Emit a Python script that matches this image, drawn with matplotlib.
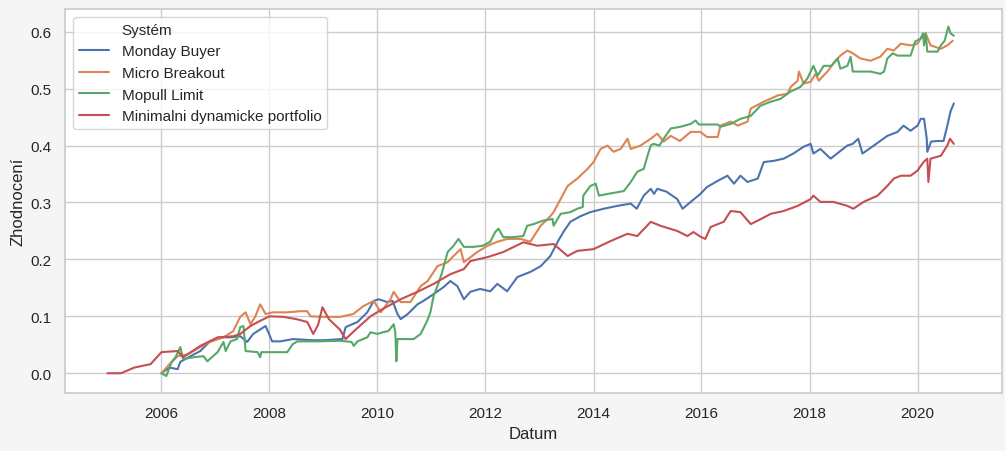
import numpy as np
import pandas as pd
import matplotlib
matplotlib.use("Agg")
import matplotlib.pyplot as plt
from matplotlib.lines import Line2D
import seaborn as sns

# ---- data (decimal year, cumulative return) ----
series_names = ["Monday Buyer", "Micro Breakout", "Mopull Limit", "Minimalni dynamicke portfolio"]

mb_t = [2006.0, 2006.15, 2006.3, 2006.35, 2006.54, 2006.72, 2006.9, 2007.09, 2007.28, 2007.46, 2007.59,
        2007.7, 2007.83, 2007.93, 2007.98, 2008.05, 2008.2, 2008.44, 2008.8, 2009.0, 2009.35, 2009.41,
        2009.63, 2009.81, 2009.93, 2010.02, 2010.18, 2010.28, 2010.37, 2010.43, 2010.56, 2010.74,
        2010.85, 2011.04, 2011.22, 2011.35, 2011.48, 2011.6, 2011.72, 2011.9, 2012.09, 2012.22, 2012.4,
        2012.59, 2012.83, 2013.02, 2013.2, 2013.33, 2013.44, 2013.57, 2013.76, 2013.94, 2014.19,
        2014.44, 2014.69, 2014.8, 2014.93, 2015.06, 2015.12, 2015.18, 2015.35, 2015.55, 2015.65,
        2015.8, 2015.98, 2016.1, 2016.3, 2016.48, 2016.6, 2016.72, 2016.85, 2017.04, 2017.15, 2017.33,
        2017.52, 2017.7, 2017.89, 2018.02, 2018.07, 2018.2, 2018.39, 2018.55, 2018.7, 2018.8, 2018.9,
        2018.98, 2019.19, 2019.44, 2019.63, 2019.74, 2019.87, 2020.0, 2020.06, 2020.12, 2020.17,
        2020.18, 2020.25, 2020.37, 2020.48, 2020.55, 2020.61, 2020.67]
mb_v = [0.0, 0.01, 0.007, 0.02, 0.03, 0.039, 0.056, 0.063, 0.063, 0.065, 0.055,
        0.069, 0.077, 0.083, 0.072, 0.056, 0.056, 0.06, 0.058, 0.058, 0.06, 0.081,
        0.09, 0.107, 0.127, 0.13, 0.125, 0.127, 0.104, 0.095, 0.104, 0.121,
        0.127, 0.139, 0.151, 0.162, 0.153, 0.13, 0.143, 0.148, 0.144, 0.157, 0.144,
        0.169, 0.178, 0.188, 0.206, 0.23, 0.248, 0.266, 0.276, 0.283, 0.289,
        0.294, 0.298, 0.289, 0.312, 0.324, 0.315, 0.324, 0.319, 0.306, 0.289,
        0.301, 0.315, 0.327, 0.338, 0.347, 0.333, 0.347, 0.336, 0.342, 0.371, 0.373,
        0.377, 0.386, 0.398, 0.403, 0.386, 0.394, 0.377, 0.389, 0.4, 0.403, 0.412,
        0.386, 0.4, 0.417, 0.424, 0.435, 0.426, 0.435, 0.447, 0.447, 0.412,
        0.389, 0.407, 0.408, 0.408, 0.435, 0.46, 0.474]

br_t = [2006.0, 2006.15, 2006.3, 2006.48, 2006.72, 2006.9, 2007.15, 2007.33, 2007.46, 2007.56,
        2007.65, 2007.74, 2007.83, 2007.93, 2008.07, 2008.33, 2008.57, 2008.7, 2008.76, 2009.0,
        2009.31, 2009.55, 2009.74, 2009.93, 2010.06, 2010.24, 2010.3, 2010.43, 2010.61, 2010.8,
        2010.93, 2011.11, 2011.3, 2011.41, 2011.54, 2011.6, 2011.85, 2012.04, 2012.22, 2012.41,
        2012.65, 2012.83, 2013.02, 2013.2, 2013.26, 2013.39, 2013.52, 2013.7, 2013.89, 2014.0,
        2014.13, 2014.26, 2014.37, 2014.5, 2014.63, 2014.69, 2014.87, 2015.06, 2015.18, 2015.3,
        2015.43, 2015.6, 2015.8, 2015.98, 2016.1, 2016.3, 2016.35, 2016.54, 2016.67, 2016.85,
        2016.91, 2017.15, 2017.41, 2017.59, 2017.65, 2017.78, 2017.8, 2017.89, 2018.02, 2018.11,
        2018.17, 2018.33, 2018.44, 2018.57, 2018.7, 2018.8, 2018.94, 2019.13, 2019.31, 2019.44,
        2019.56, 2019.69, 2019.87, 2020.0, 2020.09, 2020.15, 2020.24, 2020.43, 2020.55, 2020.65]
br_v = [0.0, 0.016, 0.03, 0.033, 0.046, 0.055, 0.063, 0.074, 0.099, 0.107,
        0.086, 0.1, 0.121, 0.104, 0.107, 0.107, 0.109, 0.109, 0.1, 0.099,
        0.099, 0.104, 0.118, 0.127, 0.107, 0.13, 0.143, 0.125, 0.125, 0.153,
        0.162, 0.188, 0.195, 0.206, 0.218, 0.195, 0.213, 0.224, 0.231, 0.236,
        0.236, 0.231, 0.259, 0.276, 0.283, 0.306, 0.329, 0.342, 0.359, 0.371,
        0.394, 0.4, 0.389, 0.394, 0.412, 0.394, 0.4, 0.412, 0.421, 0.407,
        0.417, 0.408, 0.424, 0.424, 0.415, 0.415, 0.435, 0.442, 0.435, 0.442,
        0.465, 0.477, 0.488, 0.491, 0.503, 0.514, 0.53, 0.509, 0.512, 0.526,
        0.514, 0.53, 0.544, 0.558, 0.567, 0.562, 0.553, 0.549, 0.556, 0.57,
        0.567, 0.579, 0.576, 0.579, 0.593, 0.597, 0.576, 0.57, 0.576, 0.584]

ml_t = [2006.0, 2006.09, 2006.19, 2006.26, 2006.35, 2006.4, 2006.59, 2006.78, 2006.85, 2007.04,
        2007.15, 2007.19, 2007.28, 2007.4, 2007.46, 2007.52, 2007.56, 2007.78, 2007.83, 2007.85,
        2008.07, 2008.33, 2008.43, 2008.52, 2008.9, 2009.3, 2009.52, 2009.56, 2009.63, 2009.81,
        2009.87, 2010.0, 2010.1, 2010.2, 2010.3, 2010.33, 2010.35, 2010.37, 2010.67, 2010.8,
        2010.92, 2010.98, 2011.04, 2011.11, 2011.19, 2011.3, 2011.41, 2011.5, 2011.6, 2011.78,
        2011.95, 2012.09, 2012.18, 2012.24, 2012.33, 2012.5, 2012.7, 2012.77, 2012.89, 2013.06,
        2013.24, 2013.26, 2013.39, 2013.57, 2013.7, 2013.8, 2013.81, 2013.94, 2014.04, 2014.1,
        2014.26, 2014.5, 2014.56, 2014.69, 2014.81, 2014.93, 2015.0, 2015.06, 2015.11, 2015.22,
        2015.3, 2015.43, 2015.61, 2015.8, 2015.89, 2015.95, 2016.3, 2016.35, 2016.54, 2016.72,
        2016.91, 2017.09, 2017.28, 2017.46, 2017.65, 2017.83, 2017.96, 2018.07, 2018.15, 2018.26,
        2018.4, 2018.52, 2018.57, 2018.7, 2018.76, 2018.8, 2019.13, 2019.31, 2019.38, 2019.44,
        2019.54, 2019.63, 2019.87, 2019.96, 2020.06, 2020.1, 2020.12, 2020.15, 2020.18, 2020.37,
        2020.43, 2020.5, 2020.57, 2020.61, 2020.67]
ml_v = [0.0, -0.005, 0.02, 0.028, 0.046, 0.025, 0.028, 0.03, 0.021, 0.037,
        0.055, 0.039, 0.056, 0.06, 0.081, 0.083, 0.039, 0.037, 0.028, 0.037,
        0.037, 0.037, 0.051, 0.056, 0.056, 0.057, 0.055, 0.048, 0.056, 0.063,
        0.072, 0.069, 0.072, 0.074, 0.086, 0.072, 0.021, 0.06, 0.06, 0.069,
        0.092, 0.107, 0.136, 0.153, 0.175, 0.213, 0.224, 0.236, 0.222, 0.222,
        0.224, 0.231, 0.248, 0.254, 0.239, 0.239, 0.241, 0.259, 0.262, 0.268,
        0.271, 0.259, 0.28, 0.283, 0.289, 0.292, 0.312, 0.329, 0.333, 0.312,
        0.315, 0.319, 0.32, 0.336, 0.354, 0.359, 0.382, 0.4, 0.403, 0.4,
        0.412, 0.43, 0.433, 0.438, 0.444, 0.437, 0.437, 0.433, 0.438, 0.447,
        0.452, 0.47, 0.477, 0.482, 0.495, 0.503, 0.518, 0.54, 0.523, 0.54,
        0.54, 0.553, 0.535, 0.54, 0.556, 0.53, 0.53, 0.526, 0.53, 0.553,
        0.562, 0.558, 0.558, 0.583, 0.588, 0.597, 0.576, 0.597, 0.565, 0.565,
        0.576, 0.584, 0.609, 0.597, 0.593]

mp_t = [2005.0, 2005.25, 2005.5, 2005.8, 2006.0, 2006.3, 2006.4, 2006.72, 2007.04, 2007.33,
        2007.46, 2007.65, 2007.83, 2008.0, 2008.26, 2008.5, 2008.7, 2008.81, 2008.9, 2008.98,
        2009.1, 2009.3, 2009.41, 2009.6, 2009.87, 2010.1, 2010.43, 2010.74, 2011.04, 2011.35,
        2011.6, 2011.72, 2012.04, 2012.33, 2012.7, 2012.96, 2013.26, 2013.52, 2013.7, 2014.0,
        2014.31, 2014.63, 2014.81, 2015.06, 2015.24, 2015.55, 2015.74, 2015.85, 2015.98, 2016.07,
        2016.17, 2016.41, 2016.54, 2016.72, 2016.91, 2017.1, 2017.28, 2017.52, 2017.78, 2018.02,
        2018.07, 2018.2, 2018.44, 2018.7, 2018.81, 2019.0, 2019.26, 2019.44, 2019.56, 2019.69,
        2019.87, 2020.0, 2020.11, 2020.18, 2020.2, 2020.24, 2020.43, 2020.55, 2020.6, 2020.67]
mp_v = [0.0, 0.0, 0.01, 0.016, 0.037, 0.039, 0.028, 0.048, 0.063, 0.065,
        0.069, 0.083, 0.092, 0.1, 0.099, 0.095, 0.09, 0.069, 0.085, 0.116,
        0.095, 0.077, 0.06, 0.077, 0.1, 0.113, 0.13, 0.143, 0.157, 0.174,
        0.183, 0.197, 0.204, 0.213, 0.23, 0.224, 0.227, 0.206, 0.215, 0.218,
        0.232, 0.245, 0.241, 0.266, 0.259, 0.25, 0.241, 0.248, 0.24, 0.236,
        0.257, 0.266, 0.285, 0.283, 0.262, 0.271, 0.28, 0.285, 0.294, 0.306,
        0.312, 0.301, 0.301, 0.294, 0.289, 0.301, 0.312, 0.329, 0.342, 0.347,
        0.347, 0.356, 0.371, 0.377, 0.336, 0.377, 0.382, 0.4, 0.412, 0.403]

series_t = [mb_t, br_t, ml_t, mp_t]
series_v = [mb_v, br_v, ml_v, mp_v]


def to_dates(years):
    out = []
    for y in years:
        yi = int(np.floor(y))
        start = pd.Timestamp(year=yi, month=1, day=1)
        end = pd.Timestamp(year=yi + 1, month=1, day=1)
        out.append(start + (end - start) * (y - yi))
    return pd.to_datetime(out)


frames = []
for name, t, v in zip(series_names, series_t, series_v):
    frames.append(pd.DataFrame({"Datum": to_dates(t), "Zhodnocení": v, "Systém": name}))
df = pd.concat(frames, ignore_index=True)

sns.set_theme(style="whitegrid", palette="deep")
plt.rcParams["font.family"] = ["Liberation Sans", "DejaVu Sans"]

fig = plt.figure(figsize=(10.05, 4.52), dpi=100, facecolor="#f5f5f5")
ax = fig.add_axes([0.0647, 0.128, 0.9323, 0.850])

colors = sns.color_palette("deep")
handles = [Line2D([], [], alpha=0)]
labels = ["Systém"]
for i, name in enumerate(series_names):
    sub = df[df["Systém"] == name]
    ln, = ax.plot(sub["Datum"], sub["Zhodnocení"], color=colors[i], lw=1.5, label=name)
    handles.append(ln)
    labels.append(name)

ax.set_xlabel("Datum", fontsize=12)
ax.set_ylabel("Zhodnocení", fontsize=12)
ax.tick_params(labelsize=11)
ax.set_xlim(pd.Timestamp("2004-03-20"), pd.Timestamp("2021-07-25"))
ax.set_ylim(-0.035, 0.64)
ax.set_yticks([0.0, 0.1, 0.2, 0.3, 0.4, 0.5, 0.6])
import matplotlib.dates as mdates
ax.xaxis.set_major_locator(mdates.YearLocator(2))
ax.xaxis.set_major_formatter(mdates.DateFormatter("%Y"))
ax.legend(handles, labels, loc="upper left", fontsize=11)

fig.savefig("out.png", dpi=100, facecolor=fig.get_facecolor())
